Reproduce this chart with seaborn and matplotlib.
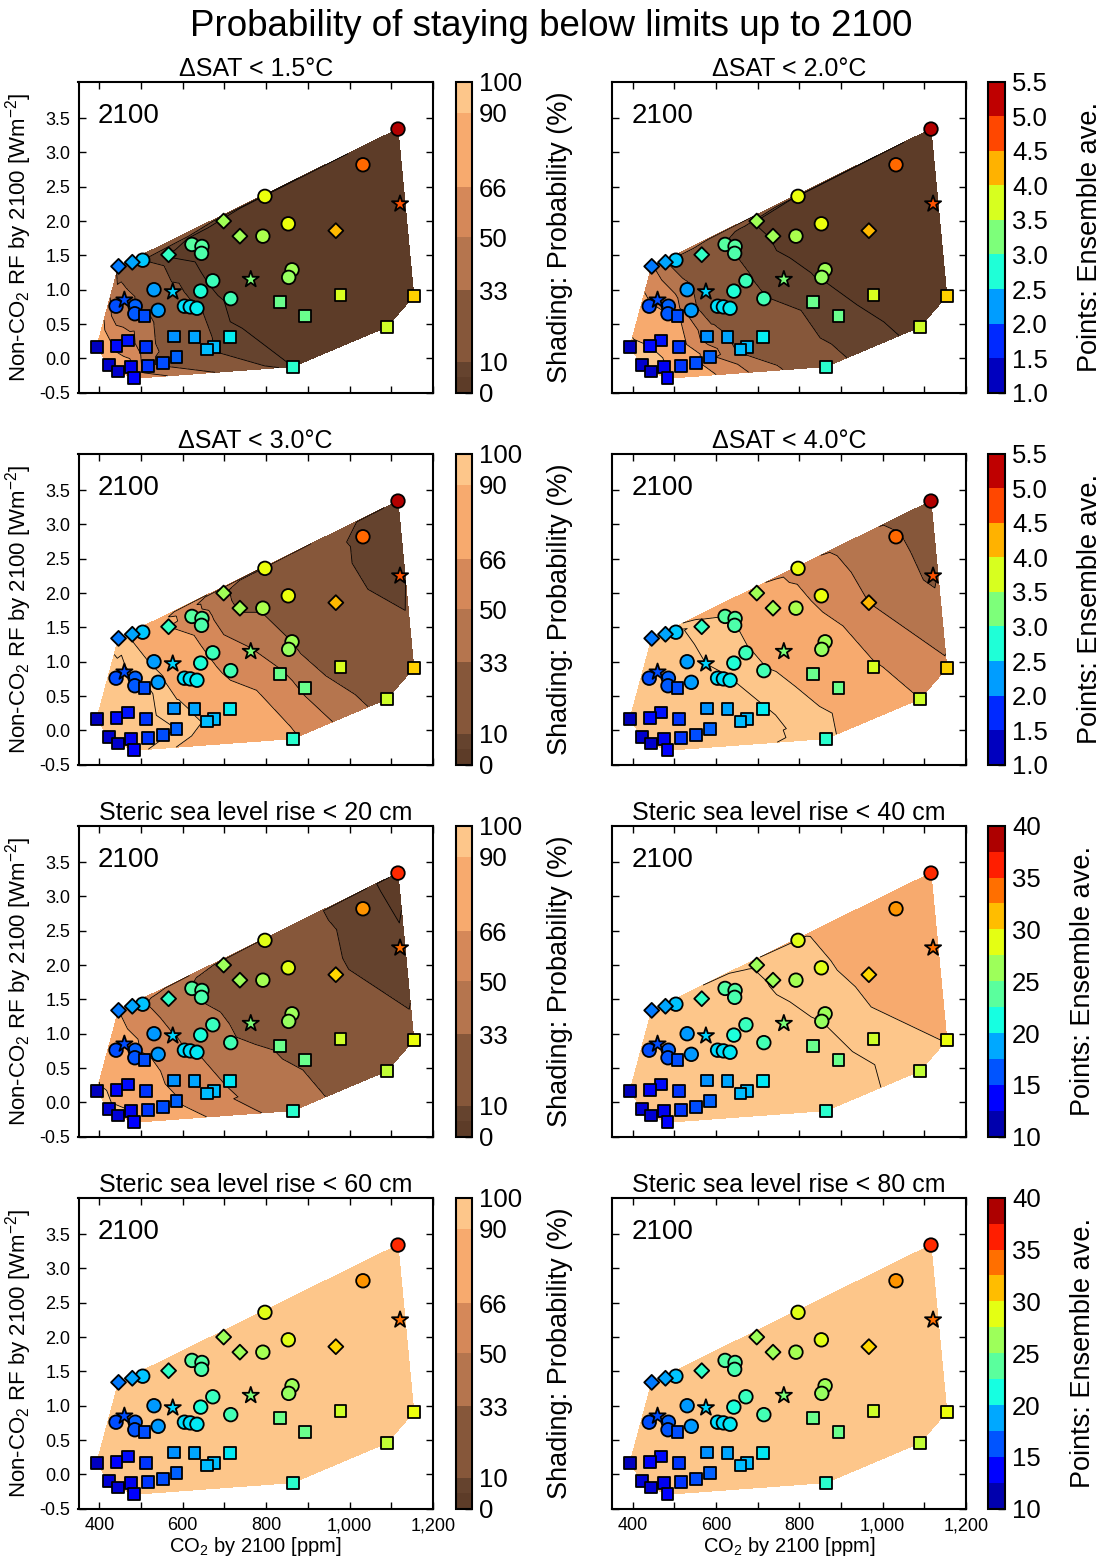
import numpy as np
import pandas as pd
import matplotlib
matplotlib.use("Agg")
import matplotlib.pyplot as plt
import matplotlib.tri as mtri
from matplotlib.colors import ListedColormap, BoundaryNorm
from matplotlib.cm import ScalarMappable
from matplotlib.ticker import FuncFormatter
import seaborn as sns

# ---------------------------------------------------------------------------
# Scenario data: marker type, CO2 in 2100, non-CO2 forcing in 2100
# ---------------------------------------------------------------------------
marker_shape = ['o'] * 22 + ['D'] * 6 + ['*'] * 4 + ['s'] * 23

co2_2100 = [1116, 1032, 797, 853, 792, 862, 854, 622, 646, 645, 504, 672, 643, 715, 531, 604, 618, 634, 541, 440, 486, 485,
            446, 479, 566, 698, 737, 967,
            1121, 763, 576, 460,
            1154, 978, 1090, 833, 894, 864, 713, 674, 659, 628, 579, 585, 552, 517, 511, 508, 468, 441, 394, 423, 444, 475, 484]

nonco2_rf = [3.34, 2.82, 2.36, 1.96, 1.78, 1.29, 1.18, 1.66, 1.63, 1.53, 1.43, 1.13, 0.98, 0.87, 1.00, 0.76, 0.75, 0.73, 0.70, 0.76, 0.76, 0.65,
             1.34, 1.40, 1.51, 2.00, 1.78, 1.86,
             2.25, 1.15, 0.97, 0.85,
             0.91, 0.92, 0.46, 0.82, 0.62, -0.12, 0.31, 0.17, 0.13, 0.31, 0.32, 0.02, -0.07, -0.11, 0.16, 0.62, 0.26, 0.18, 0.17, -0.10, -0.19, -0.12, -0.29]

# ensemble-average warming (K) and steric sea level rise (cm) by 2100
dsat_mean = [5.3, 4.6, 3.85, 3.85, 3.5, 3.45, 3.4, 3.05, 3.05, 3.0, 2.45, 2.9, 2.75, 2.95, 2.25, 2.55, 2.55, 2.6, 2.25, 1.9, 2.0, 1.95,
             2.1, 2.3, 2.85, 3.45, 3.45, 4.2,
             4.7, 3.25, 2.5, 1.9,
             4.1, 3.75, 3.7, 3.15, 3.15, 2.8, 2.6, 2.4, 2.4, 2.3, 2.2, 2.0, 1.9, 1.8, 1.8, 1.9, 1.65, 1.6, 1.25, 1.3, 1.3, 1.45, 1.5]

steric_mean = [36, 32.5, 28.7, 28.7, 26.5, 26.2, 26, 23.5, 23.5, 23.2, 19.5, 22.6, 21.6, 22.9, 18.3, 20.3, 20.3, 20.6, 18.3, 16, 16.6, 16.3,
               17.3, 18.6, 22.3, 26.2, 26.2, 30.4,
               33.7, 25, 20, 16,
               29, 28, 27.5, 24.3, 24.3, 22, 20.6, 19.3, 19.3, 18.6, 18, 16.6, 16, 15.3, 15.3, 16, 14, 13.7, 11.7, 12.3, 12.3, 13, 13.7]

# probability (%) of staying below each limit up to 2100, per scenario
p_sat15 = [0, 0, 0.3, 0.3, 0.8, 1, 1, 2.5, 2.5, 3, 10, 4, 7, 3.5, 22, 12, 12, 11, 22, 39, 33, 36,
           28, 19, 4.5, 1, 1, 0.1,
           0, 1.5, 12, 39,
           0.2, 0.5, 0.5, 2, 2, 5, 6, 10, 10, 14, 20, 24, 28, 38, 40, 39, 57, 62, 85, 78, 78, 70, 62]

p_sat20 = [0, 0.5, 2.5, 2.5, 4, 4.5, 4.8, 9.5, 9.5, 10, 25, 11, 13, 10.5, 38, 20, 20, 18, 38, 68, 62, 66,
           52, 34, 11.5, 4.5, 4.5, 1.2,
           0.4, 6, 23, 68,
           1.5, 2.8, 3, 7.5, 7.5, 12, 18, 28, 28, 34, 42, 62, 68, 75, 75, 68, 87, 90, 95, 93, 93, 91.5, 90]

p_sat30 = [5.5, 8, 20, 20, 31, 33, 36, 57, 57, 59, 88, 63, 72, 61, 89, 84, 84, 81, 92, 96, 95, 95.5,
           94, 89, 66, 35, 31, 13,
           7, 52, 86, 96,
           15, 23, 24, 53, 47, 69, 81, 89, 89, 89, 92.5, 95, 96, 96.5, 96.5, 96, 97, 97.5, 99, 98.5, 98.5, 98, 97.5]

p_sat40 = [18, 35, 60, 60, 75, 77, 79, 90, 90, 90.5, 96.5, 91.5, 93.5, 91, 98, 95.8, 95.8, 95.3, 98, 99.5, 99.5, 99.5,
           99, 97.5, 92, 77, 77, 50,
           30, 84, 95, 99.5,
           53, 68, 66, 87, 87, 93, 95.5, 97, 97, 97.5, 98.5, 99.5, 99.5, 99.5, 99.5, 99.5, 99.5, 99.5, 99.5, 99.5, 99.5, 99.5, 99.5]

p_sl20 = [3, 7, 15.5, 15.5, 22, 23, 24, 32, 32, 32, 52, 37, 43, 35, 59, 50.5, 50.5, 50, 59, 72, 68, 70,
          66, 57, 39, 23, 23, 11,
          6, 28, 51, 72,
          12, 17, 18, 31, 31, 41, 48, 54, 54, 57, 61, 68, 72, 77, 77, 72, 85, 87, 93, 91.5, 91.5, 90, 87]

p_sl40 = [75, 83, 91, 91, 94, 94.5, 95, 97.8, 97.8, 98, 99.5, 98.2, 98.7, 98.1, 99.5, 99.3, 99.3, 99, 99.5, 99.5, 99.5, 99.5,
          99.5, 99.5, 98.3, 94.5, 94.5, 88,
          82, 96, 99.5, 99.5,
          89.8, 92, 92.5, 97, 97, 98.5, 99, 99.5, 99.5, 99.5, 99.5, 99.5, 99.5, 99.5, 99.5, 99.5, 99.5, 99.5, 99.5, 99.5, 99.5, 99.5, 99.5]

p_sl60 = [96, 98, 99.3, 99.3, 99.8, 99.8, 99.8, 100, 100, 100, 100, 100, 100, 100, 100, 100, 100, 100, 100, 100, 100, 100,
          100, 100, 100, 99.8, 99.8, 98.8,
          97.8, 100, 100, 100,
          99, 99.5, 99.5, 100, 100, 100, 100, 100, 100, 100, 100, 100, 100, 100, 100, 100, 100, 100, 100, 100, 100, 100, 100]

p_sl80 = [99.5, 99.8, 100, 100, 100, 100, 100, 100, 100, 100, 100, 100, 100, 100, 100, 100, 100, 100, 100, 100, 100, 100,
          100, 100, 100, 100, 100, 100,
          99.7, 100, 100, 100,
          100, 100, 100, 100, 100, 100, 100, 100, 100, 100, 100, 100, 100, 100, 100, 100, 100, 100, 100, 100, 100, 100, 100]

panel_titles = ['ΔSAT < 1.5°C', 'ΔSAT < 2.0°C', 'ΔSAT < 3.0°C', 'ΔSAT < 4.0°C',
                'Steric sea level rise < 20 cm', 'Steric sea level rise < 40 cm',
                'Steric sea level rise < 60 cm', 'Steric sea level rise < 80 cm']
panel_probs = [p_sat15, p_sat20, p_sat30, p_sat40, p_sl20, p_sl40, p_sl60, p_sl80]
panel_vars = ['dsat', 'dsat', 'dsat', 'dsat', 'steric', 'steric', 'steric', 'steric']

# shading classes
prob_levels = [0, 5, 10, 33, 50, 66, 90, 95, 100]
prob_ticklabels = ['0', '', '10', '33', '50', '66', '90', '', '100']
prob_colors = ['#5d3c28', '#65432e', '#86573a', '#b5754e', '#d58859', '#f7aa6e', '#fdc68a', '#fdc68a']

# point colour classes
dsat_bounds = [1.0, 1.5, 2.0, 2.5, 3.0, 3.5, 4.0, 4.5, 5.0, 5.5]
steric_bounds = [10, 12.5, 15, 17.5, 20, 22.5, 25, 27.5, 30, 32.5, 35, 37.5, 40]
steric_ticks = [10, 15, 20, 25, 30, 35, 40]

# ---------------------------------------------------------------------------
sns.set_style("ticks")
plt.rcParams.update({
    'font.family': ['Liberation Sans', 'DejaVu Sans'],
    'mathtext.default': 'regular',
    'axes.unicode_minus': False,
    'axes.linewidth': 1.5,
    'axes.edgecolor': 'black',
    'text.color': 'black',
    'axes.labelcolor': 'black',
    'axes.titlecolor': 'black',
    'xtick.color': 'black', 'ytick.color': 'black',
    'xtick.labelcolor': 'black', 'ytick.labelcolor': 'black',
    'xtick.direction': 'in', 'ytick.direction': 'in',
})

df = pd.DataFrame({'co2': co2_2100, 'rf': nonco2_rf, 'shape': marker_shape,
                   'dsat': dsat_mean, 'steric': steric_mean})

# triangulate in scaled coordinates, interpolate in data coordinates
tri_scaled = mtri.Triangulation(np.asarray(co2_2100) / 850.0, np.asarray(nonco2_rf) / 4.5)
tri = mtri.Triangulation(co2_2100, nonco2_rf, triangles=tri_scaled.triangles)

W, H = 1102, 1562
fig = plt.figure(figsize=(W / 100, H / 100), dpi=100)


def rect(x0, y0, x1, y1):
    return [x0 / W, 1 - y1 / H, (x1 - x0) / W, (y1 - y0) / H]


col_x = [(78.5, 433.0), (611.7, 966.0)]
row_top = [81.7, 453.7, 825.7, 1197.7]
ax_h = 311.0

marker_map = {'o': 'o', 'D': 'D', '*': '*', 's': 's'}
size_map = {'o': 95, 'D': 58, '*': 150, 's': 72}

prob_cmap = ListedColormap(prob_colors)
prob_norm = BoundaryNorm(prob_levels, prob_cmap.N)
# filled classes; the top class is closed so that 100 % is shaded too
fill_levels = prob_levels[:-1] + [100.5]
jet = plt.get_cmap('jet')


def discrete_jet(bounds):
    n = len(bounds) - 1
    cm = ListedColormap([jet((i + 0.5) / n) for i in range(n)])
    return cm, BoundaryNorm(bounds, n)


for k in range(8):
    r, c = divmod(k, 2)
    ax = fig.add_axes(rect(col_x[c][0], row_top[r], col_x[c][1], row_top[r] + ax_h))
    prob = np.asarray(panel_probs[k], dtype=float)
    var = panel_vars[k]
    vlim = (1.0, 5.5) if var == 'dsat' else (10, 40)

    ax.tricontourf(tri, prob, levels=fill_levels, colors=prob_colors, zorder=1)
    lines = [lv for lv in prob_levels[1:-1] if prob.min() < lv < prob.max()]
    if lines:
        ax.tricontour(tri, prob, levels=lines, colors='k', linewidths=0.6, zorder=2)

    sns.scatterplot(data=df, x='co2', y='rf', hue=var, palette=jet, hue_norm=vlim,
                    style='shape', markers=marker_map, size='shape', sizes=size_map,
                    edgecolor='k', linewidth=1.3, legend=False, ax=ax, zorder=3)

    ax.set_xlim(350, 1200)
    ax.set_ylim(-0.5, 4.03)
    ax.set_xticks(range(400, 1201, 100))
    ax.set_yticks([-0.5, 0.0, 0.5, 1.0, 1.5, 2.0, 2.5, 3.0, 3.5])
    ax.tick_params(direction='in', top=True, right=True, length=5, width=1, labelsize=13, pad=6)
    ax.xaxis.set_major_formatter(FuncFormatter(lambda v, p: f'{int(v):,}' if int(v) % 200 == 0 else ''))
    ax.yaxis.set_major_formatter(FuncFormatter(lambda v, p: f'{v:.1f}'))
    ax.set_title(panel_titles[k], fontsize=18, pad=4)
    ax.text(0.055, 0.93, '2100', transform=ax.transAxes, ha='left', va='top', fontsize=20)

    if r == 3:
        ax.set_xlabel('CO$_2$ by 2100 [ppm]', fontsize=14.5, labelpad=1)
    else:
        ax.set_xlabel('')
        ax.tick_params(labelbottom=False)
    if c == 0:
        ax.set_ylabel('Non-CO$_2$ RF by 2100 [Wm$^{-2}$]', fontsize=16, labelpad=4)
    else:
        ax.set_ylabel('')
        ax.tick_params(labelleft=False)
    for sp in ax.spines.values():
        sp.set_linewidth(1.5)

    # colour bars
    if c == 0:
        cax = fig.add_axes(rect(456, row_top[r], 472, row_top[r] + ax_h))
        cb = fig.colorbar(ScalarMappable(norm=prob_norm, cmap=prob_cmap), cax=cax,
                          spacing='proportional', ticks=prob_levels)
        cb.ax.set_yticklabels(prob_ticklabels)
        cb.set_label('Shading: Probability (%)', fontsize=19.5, labelpad=18)
    else:
        bounds = dsat_bounds if var == 'dsat' else steric_bounds
        cm, nm = discrete_jet(bounds)
        cax = fig.add_axes(rect(988, row_top[r], 1005, row_top[r] + ax_h))
        if var == 'dsat':
            cb = fig.colorbar(ScalarMappable(norm=nm, cmap=cm), cax=cax, ticks=dsat_bounds)
            cb.ax.set_yticklabels([f'{b:.1f}' for b in dsat_bounds])
        else:
            cb = fig.colorbar(ScalarMappable(norm=nm, cmap=cm), cax=cax, ticks=steric_ticks)
            cb.ax.set_yticklabels([str(t) for t in steric_ticks])
        cb.set_label('Points: Ensemble ave.', fontsize=19.5, labelpad=21)
    cb.ax.tick_params(direction='in', length=5, width=1, labelsize=18.5, pad=5)
    cb.ax.minorticks_off()
    cb.outline.set_linewidth(1.5)

fig.text(0.5, 1 - 27 / H, 'Probability of staying below limits up to 2100',
         ha='center', va='center', fontsize=26.5)

fig.savefig('out.png', dpi=100)
